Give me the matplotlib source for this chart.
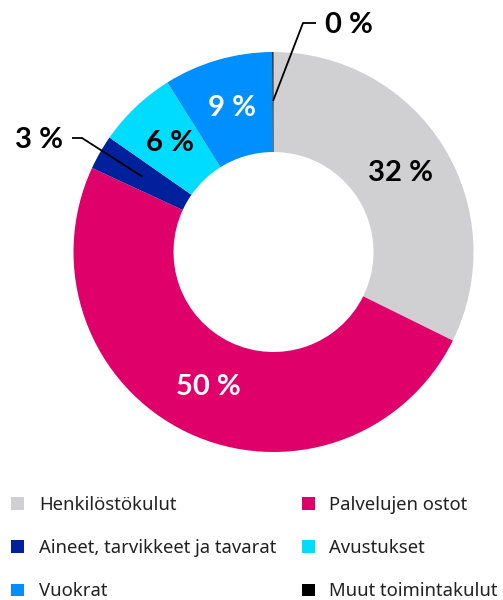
import matplotlib.pyplot as plt
import numpy as np

plt.rcParams['font.family'] = ['Noto Sans', 'DejaVu Sans']

# kustannukset, osuus prosentteina
labels = ['Henkilöstökulut', 'Palvelujen ostot', 'Aineet, tarvikkeet ja tavarat',
          'Avustukset', 'Vuokrat', 'Muut toimintakulut']
values = [32.3, 49.6, 2.8, 6.4, 8.8, 0.1]
colors = ['#d0cfd1', '#e0006a', '#00219b', '#00dcff', '#008fff', '#000000']
pct_colors = ['black', 'white', 'black', 'black', 'white', 'black']

fig = plt.figure(figsize=(5.03, 6.0), dpi=100)
W, H = 503, 600
# piirakan paikka pikseleinä: keskipiste (273.5, 252), säde 200
ax = fig.add_axes([73.5 / W, (H - 452) / H, 400 / W, 400 / H])

wedges, texts, autotexts = ax.pie(
    values, colors=colors, startangle=90, counterclock=False,
    radius=1.0, wedgeprops=dict(width=0.5, linewidth=0),
    autopct=lambda p: '%d %%' % round(p), pctdistance=0.75,
    textprops=dict(fontsize=21, fontweight='bold', family=['Lato', 'DejaVu Sans']))
for t, c in zip(autotexts, pct_colors):
    t.set_color(c)
ax.set_xlim(-1, 1)
ax.set_ylim(-1, 1)
ax.set_aspect('equal')
ax.axis('off')

# pienet osuudet: selitteet ulkopuolelle viivalla
for i, elbow, tend, ha in [(2, (-0.9575, 0.57), (-1.0075, 0.57), 'right'),
                           (5, (0.1475, 1.145), (0.2125, 1.145), 'left')]:
    w = wedges[i]
    ang = np.deg2rad((w.theta1 + w.theta2) / 2)
    p0 = (0.755 * np.cos(ang), 0.755 * np.sin(ang))
    ax.plot([p0[0], elbow[0], tend[0]], [p0[1], elbow[1], tend[1]],
            color='black', lw=1.3, clip_on=False, solid_capstyle='butt')
    t = autotexts[i]
    t.set_color('black')
    dx = -0.045 if ha == 'right' else 0.045
    t.set_position((tend[0] + dx, tend[1] - 0.01))
    t.set_ha(ha)

order = [0, 2, 4, 1, 3, 5]
leg = fig.legend([wedges[k] for k in order], [labels[k] for k in order],
                 ncol=2, loc='upper left', bbox_to_anchor=(2 / W, 1 - 487 / H),
                 frameon=False, fontsize=13.3, handlelength=0.7, handleheight=0.7,
                 handletextpad=0.8, labelspacing=1.36, columnspacing=1.37,
                 borderaxespad=0.0, borderpad=0.5)
for t in leg.get_texts():
    t.set_color('#222222')

fig.savefig('out.png', dpi=100)
